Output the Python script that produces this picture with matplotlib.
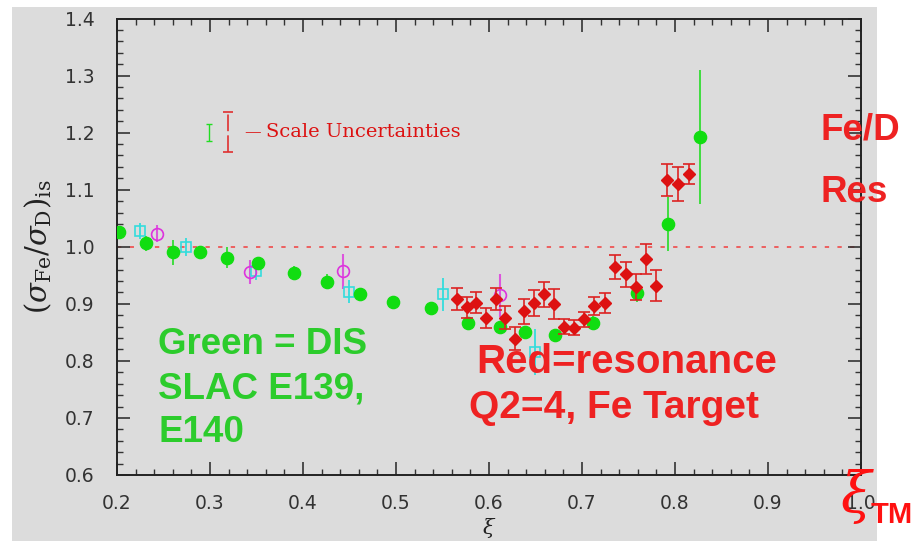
import matplotlib
matplotlib.use("Agg")
import matplotlib.pyplot as plt
from matplotlib.patches import Rectangle
from matplotlib.ticker import MultipleLocator

plt.rcParams["mathtext.fontset"] = "dejavuserif"

# ---------------- data ----------------
green_x = [0.202, 0.231, 0.260, 0.289, 0.318, 0.352, 0.390, 0.426, 0.4614, 0.4966,
           0.5375, 0.5776, 0.612, 0.639, 0.671, 0.7114, 0.7587, 0.7928, 0.8265]
green_y = [1.025, 1.006, 0.990, 0.991, 0.981, 0.971, 0.954, 0.939, 0.9165, 0.903,
           0.892, 0.867, 0.859, 0.851, 0.845, 0.866, 0.919, 1.040, 1.193]
green_err = [0.006, 0.013, 0.022, 0.008, 0.018, 0.008, 0.012, 0.013, 0.006, 0.005,
             0.005, 0.005, 0.005, 0.005, 0.005, 0.012, 0.016, 0.048, 0.1175]

cyan_x = [0.2245, 0.2746, 0.349, 0.4496, 0.550, 0.649]
cyan_y = [1.0275, 1.000, 0.957, 0.921, 0.9165, 0.816]
cyan_err = [0.014, 0.016, 0.015, 0.020, 0.0287, 0.040]

mag_x = [0.243, 0.343, 0.4435, 0.612]
mag_y = [1.023, 0.956, 0.957, 0.915]
mag_err = [0.015, 0.0216, 0.031, 0.038]

red_x = [0.566, 0.576, 0.586, 0.5966, 0.607, 0.617, 0.628, 0.638, 0.6486, 0.659,
         0.6698, 0.6805, 0.691, 0.702, 0.713, 0.7246, 0.7354, 0.747, 0.758, 0.769,
         0.780, 0.7917, 0.8032, 0.8147]
red_y = [0.909, 0.894, 0.902, 0.875, 0.908, 0.8755, 0.839, 0.887, 0.902, 0.9165,
         0.8995, 0.860, 0.858, 0.8726, 0.8965, 0.9007, 0.965, 0.9516, 0.930, 0.978,
         0.9316, 1.117, 1.110, 1.127]
red_err = [0.019, 0.0184, 0.018, 0.018, 0.0196, 0.020, 0.0205, 0.022, 0.023, 0.022,
           0.026, 0.0135, 0.013, 0.013, 0.0155, 0.0175, 0.021, 0.022, 0.0228, 0.026,
           0.027, 0.028, 0.0295, 0.0175]

# scale-uncertainty legend bars (x, y, half-length)
scale_green = (0.299, 1.2004, 0.0149)
scale_red = (0.3194, 1.2007, 0.035)

x_ticks = [0.2, 0.3, 0.4, 0.5, 0.6, 0.7, 0.8, 0.9, 1.0]
y_ticks = [0.6, 0.7, 0.8, 0.9, 1.0, 1.1, 1.2, 1.3, 1.4]

GREEN = "#11dd11"
RED = "#dd1111"
TXT_RED = "#ee2222"
TXT_GREEN = "#2ccc2c"

# ---------------- figure ----------------
fig = plt.figure(figsize=(9.22, 5.41), dpi=100)
fig.patch.set_facecolor("white")
fig.patches.append(Rectangle((12 / 922, 0), (877 - 12) / 922, 1 - 7 / 541,
                             transform=fig.transFigure, facecolor="#dcdcdc",
                             edgecolor="none", zorder=-10))

ax = fig.add_axes([117 / 922, 1 - 475 / 541, (861 - 117) / 922, (475 - 18.5) / 541])
ax.set_facecolor("#dcdcdc")
ax.set_xlim(0.2, 1.0)
ax.set_ylim(0.6, 1.4)

# reference line
ax.plot([0.2, 1.0], [1.0, 1.0], color="#ee5555", lw=1.3, dashes=(2.4, 4.6), zorder=1)

# green DIS points
ax.errorbar(green_x, green_y, yerr=green_err, fmt="o", color=GREEN, ms=8.8,
            ecolor="#33dd33", elinewidth=1.3, capsize=0, zorder=4)
# cyan squares
ax.errorbar(cyan_x, cyan_y, yerr=cyan_err, fmt="s", mfc="none", mec="#33dddd",
            ms=7.5, mew=1.2, ecolor="#33dddd", elinewidth=1.3, capsize=0, zorder=3)
# magenta circles
ax.errorbar(mag_x, mag_y, yerr=mag_err, fmt="o", mfc="none", mec="#dd33dd",
            ms=8.5, mew=1.2, ecolor="#dd55dd", elinewidth=1.5, capsize=0, zorder=3)
# red resonance points
ax.errorbar(red_x, red_y, yerr=red_err, fmt="D", color=RED, ms=6,
            ecolor="#dd2222", elinewidth=1.2, capsize=4, capthick=1.2, zorder=5)

# scale uncertainty legend
gx, gy, gh = scale_green
ax.errorbar([gx], [gy], yerr=[gh], fmt="none", ecolor="#22dd22", elinewidth=1.0,
            capsize=2.5, capthick=1.0, zorder=5)
rx, ry, rh = scale_red
eb = ax.errorbar([rx], [ry], yerr=[rh], fmt="none", ecolor="#e03030", elinewidth=1.2,
                 capsize=3.5, capthick=1.2, zorder=5)
eb[2][0].set_linestyle((0, (10, 2.5)))
ax.text(0.3370, ry, "\u2014", color=RED, fontsize=12, ha="left", va="center",
        family="DejaVu Serif")
ax.text(0.3600, ry, "Scale Uncertainties", color=RED, fontsize=14, ha="left",
        va="center", family="DejaVu Serif")

# ticks / spines
ax.xaxis.set_minor_locator(MultipleLocator(0.02))
ax.yaxis.set_minor_locator(MultipleLocator(0.02))
ax.set_xticks(x_ticks)
ax.set_yticks(y_ticks)
ax.set_xticklabels([f"{v:.1f}" for v in x_ticks])
ax.set_yticklabels([f"{v:.1f}" for v in y_ticks])
ax.tick_params(which="both", direction="in", top=True, right=True, colors="#333333")
ax.tick_params(which="major", length=9.5, width=1.2, labelsize=13.5, pad=14)
ax.tick_params(which="minor", length=4.3, width=1.0)
ax.tick_params(axis="y", which="major", pad=16)
for sp in ax.spines.values():
    sp.set_linewidth(1.4)
    sp.set_color("#222222")

ax.set_ylabel(r"$(\sigma_{\rm Fe}/\sigma_{\rm D})_{\rm is}$", fontsize=21,
              labelpad=8, color="#222222")
ax.set_xlabel(r"$\xi$", fontsize=15, labelpad=2, color="#222222")

# annotations (figure pixel positions)
def ftext(px, py, s, **kw):
    fig.text(px / 922, 1 - py / 541, s, **kw)

bold = dict(family="Liberation Sans", fontweight="bold")
ftext(158, 345, "Green = DIS", color=TXT_GREEN, fontsize=26.5, va="center", **bold)
ftext(158, 389, "SLAC E139,", color=TXT_GREEN, fontsize=26.5, va="center", **bold)
ftext(158, 433, "E140", color=TXT_GREEN, fontsize=26.5, va="center", **bold)
ftext(476, 362, "Red=resonance", color=TXT_RED, fontsize=29, va="center", **bold)
ftext(469, 408, "Q2=4, Fe Target", color=TXT_RED, fontsize=28, va="center", **bold)
ftext(820, 130, "Fe/D", color=TXT_RED, fontsize=26.5, va="center", **bold)
ftext(820, 192, "Res", color=TXT_RED, fontsize=26.5, va="center", **bold)
ftext(840, 497, r"$\xi$", color="#ff1111", fontsize=40, va="center", zorder=20)
ftext(871, 515, "TM", color="#ff1111", fontsize=21, va="center", zorder=20, **bold)

fig.savefig("out.png", dpi=100, facecolor=fig.get_facecolor())
